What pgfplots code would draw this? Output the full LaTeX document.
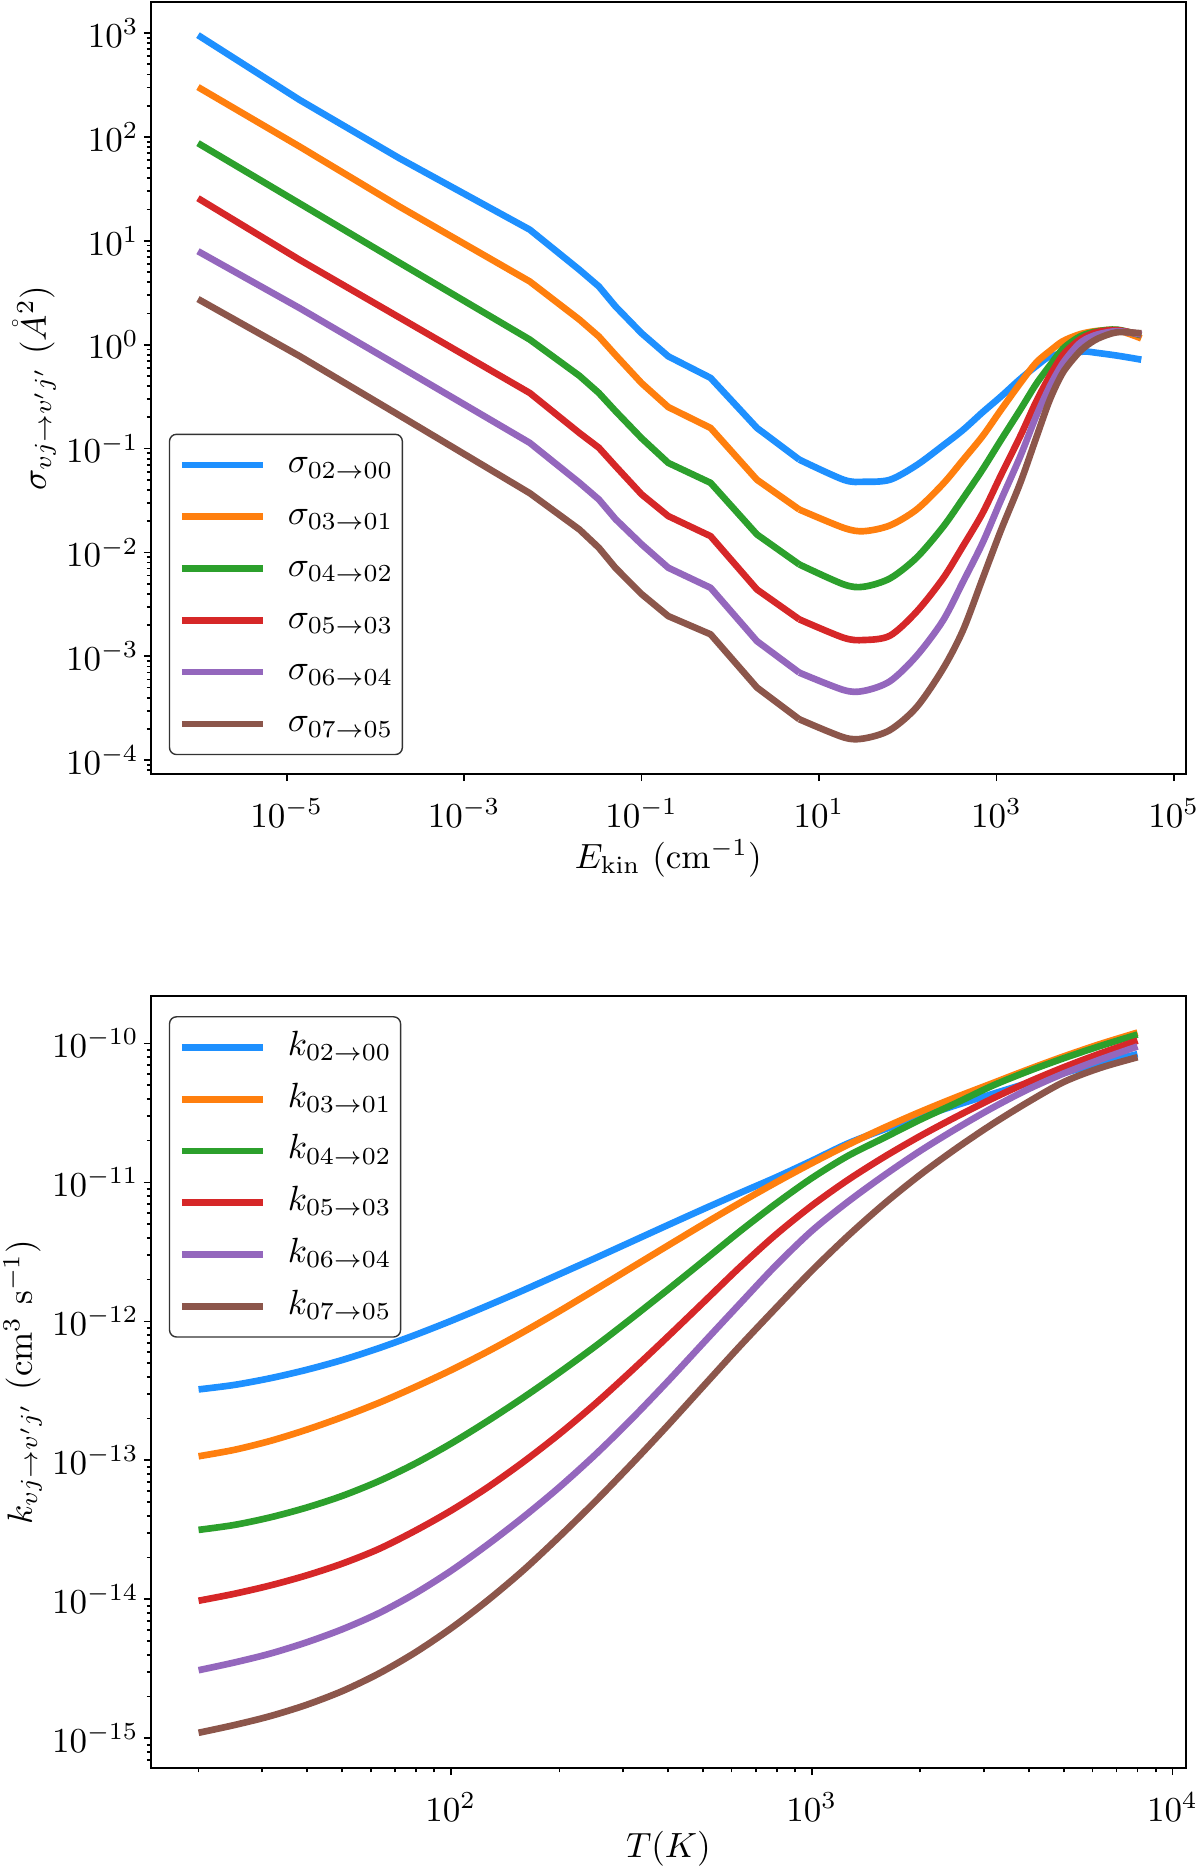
\documentclass[border=0pt]{standalone}
\usepackage{pgfplots}
\pgfplotsset{compat=1.18}
\usepackage{pgfplotstable}
\definecolor{c0}{RGB}{30,144,255}
\definecolor{c1}{RGB}{255,127,14}
\definecolor{c2}{RGB}{44,160,44}
\definecolor{c3}{RGB}{214,39,40}
\definecolor{c4}{RGB}{148,103,189}
\definecolor{c5}{RGB}{140,86,75}

% cross sections, low-energy part (coarse grid, straight segments)
\pgfplotstableread{
E        s0      s1      s2      s3       s4       s5
1e-6     955     302     87.1    25.7     7.94     2.75
1.4e-5   227     80.7    22.9    6.56     2.25     0.776
1.86e-4  62.4    21.4    6.17    1.83     0.619    0.209
5.5e-3   12.8    4.06    1.12    0.343    0.1135   0.0372
0.02     5.25    1.74    0.501   0.141    0.0468   0.0166
0.033    3.64    1.20    0.343   0.102    0.0324   0.0111
0.051    2.33    0.794   0.229   0.0676   0.0209   0.00708
0.1      1.29    0.427   0.126   0.0363   0.0120   0.00398
0.2      0.773   0.251   0.0728  0.0224   0.00713  0.00244
0.6      0.479   0.158   0.0468  0.01436  0.00457  0.00163
2        0.158   0.0501  0.0149  0.0044   0.0014   0.000501
6        0.0783  0.0259  0.00767 0.00227  0.000697 0.000248
}\sigmalow

% cross sections, high-energy part
\pgfplotstableread{
E        s0      s1      s2      s3       s4       s5
6        0.0783  0.0259  0.00767 0.00227  0.000697 0.000248
19       0.0501  0.01726 0.00493 0.00151  0.000474 0.000166
32       0.0479  0.01603 0.00468 0.001436 0.000465 0.000162
63       0.0501  0.0182  0.00562 0.00158  0.000575 0.000195
126      0.0692  0.0259  0.00891 0.00269  0.00101  0.000324
250      0.107   0.0457  0.0176  0.00562  0.00221  0.000759
420      0.151   0.0776  0.0331  0.0115   0.0052   0.00178
700      0.224   0.132   0.0631  0.024    0.0124   0.00562
1120     0.316   0.234   0.120   0.055    0.0316   0.0162
1860     0.468   0.427   0.237   0.132    0.0843   0.0468
2800     0.621   0.670   0.417   0.282    0.204    0.126
4000     0.776   0.870   0.631   0.501    0.398    0.295
5600     0.813   1.080   0.912   0.794    0.661    0.537
8000     0.841   1.23    1.148   1.06     0.964    0.794
10000    0.861   1.30    1.259   1.20     1.122    0.955
14000    0.832   1.36    1.349   1.33     1.259    1.148
23000    0.785   1.38    1.396   1.38     1.349    1.318
43000    0.718   1.15    1.23    1.25     1.259    1.288
}\sigmahigh

\pgfplotstableread{
T       k0        k1        k2        k3        k4        k5
20      3.24e-13  1.07e-13  3.16e-14  9.77e-15  3.09e-15  1.096e-15
25.1    3.49e-13  1.19e-13  3.43e-14  1.096e-14 3.51e-15  1.245e-15
31.6    3.90e-13  1.38e-13  3.89e-14  1.259e-14 4.07e-15  1.445e-15
39.8    4.48e-13  1.66e-13  4.57e-14  1.486e-14 4.90e-15  1.74e-15
50.1    5.28e-13  2.05e-13  5.56e-14  1.81e-14  6.10e-15  2.19e-15
63.1    6.41e-13  2.59e-13  7.08e-14  2.30e-14  7.94e-15  2.92e-15
79.4    7.96e-13  3.36e-13  9.44e-14  3.10e-14  1.096e-14 4.12e-15
100     1.007e-12 4.45e-13  1.318e-13 4.34e-14  1.60e-14  6.17e-15
125.9   1.291e-12 6.03e-13  1.905e-13 6.34e-14  2.455e-14 9.73e-15
158.5   1.67e-12  8.36e-13  2.82e-13  9.70e-14  3.89e-14  1.61e-14
199.5   2.18e-12  1.18e-12  4.27e-13  1.54e-13  6.38e-14  2.81e-14
251.2   2.85e-12  1.69e-12  6.61e-13  2.55e-13  1.096e-13 5.05e-14
316.2   3.74e-12  2.43e-12  1.047e-12 4.39e-13  1.97e-13  9.35e-14
398.1   4.91e-12  3.49e-12  1.68e-12  7.71e-13  3.67e-13  1.77e-13
501.2   6.43e-12  5.00e-12  2.72e-12  1.37e-12  7.00e-13  3.42e-13
631     8.37e-12  7.10e-12  4.42e-12  2.44e-12  1.33e-12  6.59e-13
794.3   1.084e-11 9.95e-12  7.00e-12  4.19e-12  2.51e-12  1.24e-12
1000    1.43e-11  1.374e-11 1.072e-11 6.79e-12  4.47e-12  2.31e-12
1258.9  1.905e-11 1.862e-11 1.549e-11 1.04e-11  7.24e-12  4.11e-12
1584.9  2.40e-11  2.47e-11  2.09e-11  1.52e-11  1.12e-11  6.98e-12
1995.3  2.95e-11  3.21e-11  2.82e-11  2.15e-11  1.68e-11  1.13e-11
2511.9  3.59e-11  4.10e-11  3.72e-11  2.96e-11  2.43e-11  1.75e-11
3162.3  4.32e-11  5.16e-11  4.95e-11  4.00e-11  3.43e-11  2.62e-11
3981.1  5.19e-11  6.50e-11  6.31e-11  5.27e-11  4.68e-11  3.79e-11
5011.9  6.14e-11  8.09e-11  7.85e-11  6.76e-11  6.10e-11  5.30e-11
6309.6  7.21e-11  9.91e-11  9.59e-11  8.47e-11  7.67e-11  6.67e-11
8000    8.37e-11  1.197e-10 1.159e-10 1.047e-10 9.51e-11  7.96e-11
}\ktable

\tikzset{
  mylegbox/.style={
    draw=black!80, line width=0.4pt, rounded corners=2pt, fill=white,
    inner xsep=2.6pt, inner ysep=4pt, row sep=5.3pt,
    nodes={inner sep=0pt, text height=7pt, text depth=2.5pt},
    /tikz/every odd column/.append style={column sep=6.2pt},
  },
}

\begin{document}
\begin{tikzpicture}
\useasboundingbox (-43.14pt,-312.0pt) rectangle (299.7pt,221.2pt);
\begin{axis}[
  scale only axis, width=295.7pt, height=220.6pt,
  xmode=log, ymode=log,
  tick align=outside, tick pos=left,
  major tick length=2pt, minor tick length=1.2pt,
  every tick/.style={black, line width=0.5pt},
  axis line style={line width=0.5pt},
  yticklabel style={xshift=2pt},
  xticklabel style={yshift=-1.5pt},
  legend cell align=left,
  legend image code/.code={\draw[#1] (0pt,0pt) -- (23.1pt,0pt);},
  every axis plot/.append style={line width=1.9pt, line join=round},
  at={(0,0)}, anchor=south west,
  xmin=2.95e-7, xmax=1.365e5,
  ymin=7.35e-5, ymax=1986,
  xtick={1e-5,1e-3,1e-1,1e1,1e3,1e5},
  minor xtick={},
  xlabel={$E_{\mathrm{kin}}\ (\mathrm{cm}^{-1})$},
  xlabel style={at={(axis description cs:0.5,-0.1224)}, anchor=base},
  ylabel={$\sigma_{vj\rightarrow v'j'}\ (\mathring{A}^{2})$},
  ylabel style={at={(axis description cs:-0.1015,0.5)}, anchor=base},
  legend style={mylegbox, at={(0,0)}, anchor=south west, xshift=5.1pt, yshift=5.4pt},
]
\addplot[c0, no markers] table[x=E,y=s0] {\sigmalow}; \addlegendentry{$\sigma_{02\rightarrow00}$}
\addplot[c1, no markers] table[x=E,y=s1] {\sigmalow}; \addlegendentry{$\sigma_{03\rightarrow01}$}
\addplot[c2, no markers] table[x=E,y=s2] {\sigmalow}; \addlegendentry{$\sigma_{04\rightarrow02}$}
\addplot[c3, no markers] table[x=E,y=s3] {\sigmalow}; \addlegendentry{$\sigma_{05\rightarrow03}$}
\addplot[c4, no markers] table[x=E,y=s4] {\sigmalow}; \addlegendentry{$\sigma_{06\rightarrow04}$}
\addplot[c5, no markers] table[x=E,y=s5] {\sigmalow}; \addlegendentry{$\sigma_{07\rightarrow05}$}
\addplot[c0, no markers, smooth, forget plot] table[x=E,y=s0] {\sigmahigh};
\addplot[c1, no markers, smooth, forget plot] table[x=E,y=s1] {\sigmahigh};
\addplot[c2, no markers, smooth, forget plot] table[x=E,y=s2] {\sigmahigh};
\addplot[c3, no markers, smooth, forget plot] table[x=E,y=s3] {\sigmahigh};
\addplot[c4, no markers, smooth, forget plot] table[x=E,y=s4] {\sigmahigh};
\addplot[c5, no markers, smooth, forget plot] table[x=E,y=s5] {\sigmahigh};
\end{axis}

\begin{axis}[
  scale only axis, width=295.7pt, height=220.6pt,
  xmode=log, ymode=log,
  tick align=outside, tick pos=left,
  major tick length=2pt, minor tick length=1.2pt,
  every tick/.style={black, line width=0.5pt},
  axis line style={line width=0.5pt},
  yticklabel style={xshift=2pt},
  xticklabel style={yshift=-1.5pt},
  legend cell align=left,
  legend image code/.code={\draw[#1] (0pt,0pt) -- (23.1pt,0pt);},
  every axis plot/.append style={line width=1.9pt, line join=round},
  at={(0,-63.43pt)}, anchor=north west,
  xmin=14.76, xmax=10890,
  ymin=6.1e-16, ymax=2.19e-10,
  xlabel={$T(K)$},
  xlabel style={at={(axis description cs:0.5,-0.1156)}, anchor=base},
  ylabel={$k_{vj\rightarrow v'j'}\ (\mathrm{cm}^{3}\ \mathrm{s}^{-1})$},
  ylabel style={at={(axis description cs:-0.115,0.5)}, anchor=base},
  legend style={mylegbox, at={(0,1)}, anchor=north west, xshift=5.1pt, yshift=-5.7pt},
]
\addplot[c0, no markers, smooth] table[x=T,y=k0] {\ktable}; \addlegendentry{$k_{02\rightarrow00}$}
\addplot[c1, no markers, smooth] table[x=T,y=k1] {\ktable}; \addlegendentry{$k_{03\rightarrow01}$}
\addplot[c2, no markers, smooth] table[x=T,y=k2] {\ktable}; \addlegendentry{$k_{04\rightarrow02}$}
\addplot[c3, no markers, smooth] table[x=T,y=k3] {\ktable}; \addlegendentry{$k_{05\rightarrow03}$}
\addplot[c4, no markers, smooth] table[x=T,y=k4] {\ktable}; \addlegendentry{$k_{06\rightarrow04}$}
\addplot[c5, no markers, smooth] table[x=T,y=k5] {\ktable}; \addlegendentry{$k_{07\rightarrow05}$}
\end{axis}
\end{tikzpicture}
\end{document}
